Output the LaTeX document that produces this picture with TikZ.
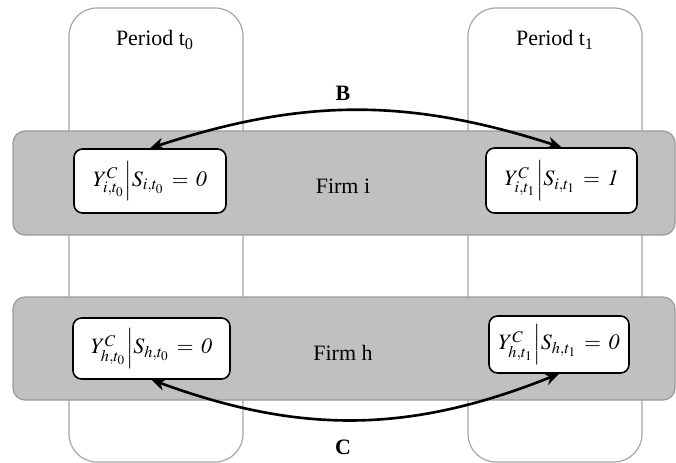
\documentclass[tikz,border=0pt]{standalone}
\usepackage{mathptmx}
\usepackage[no-math]{fontspec}
\setmainfont{Liberation Serif}
\usetikzlibrary{arrows.meta}
\definecolor{bandgray}{HTML}{C0C0C0}
\definecolor{bandline}{HTML}{9A9A9A}
\definecolor{colline}{HTML}{A8A8A8}
\tikzset{
  colbox/.style={draw=colline, line width=0.7pt, fill=white, rounded corners=0.56cm,
    minimum width=174*0.02cm, minimum height=454*0.02cm, inner sep=0pt},
  band/.style={draw=bandline, line width=0.7pt, fill=bandgray, rounded corners=0.24cm,
    minimum width=662*0.02cm, inner sep=0pt},
  cellbox/.style={draw=black, line width=0.9pt, fill=white, rounded corners=0.17cm, inner sep=0pt},
  lbl/.style={inner sep=1pt, font=\fontsize{12.5}{15}\selectfont},
  link/.style={line width=1.5pt, {Stealth[length=8pt,width=7pt]}-{Stealth[length=8pt,width=7pt]}},
}
\begin{document}
\begin{tikzpicture}[x=0.02cm,y=-0.02cm]
\useasboundingbox (0,0) rectangle (676,463);
% period columns
\node[colbox] (c0) at (156,235) {};
\node[colbox] (c1) at (555,235) {};
% firm bands
\node[band, minimum height=104*0.02cm] (fi) at (344,183) {};
\node[band, minimum height=103*0.02cm] (fh) at (344,348.5) {};
% period labels
\node[lbl] (p0) at (155,40) {Period t\textsubscript{0}};
\node[lbl] (p1) at (555,40) {Period t\textsubscript{1}};
% cell boxes
\node[cellbox, minimum width=152*0.02cm, minimum height=64*0.02cm] (i0) at (150,181)
  {\fontsize{12.5}{15}\selectfont$Y^{C}_{i,t_0}\Big|S_{i,t_0}\,=\,\mathit{0}$};
\node[cellbox, minimum width=151*0.02cm, minimum height=65*0.02cm] (i1) at (561.5,180.5)
  {\fontsize{12.5}{15}\selectfont$Y^{C}_{i,t_1}\Big|S_{i,t_1}\,=\,\mathit{1}$};
\node[cellbox, minimum width=157*0.02cm, minimum height=61*0.02cm] (h0) at (151.5,348.5)
  {\fontsize{12.5}{15}\selectfont$Y^{C}_{h,t_0}\Big|S_{h,t_0}\,=\,\mathit{0}$};
\node[cellbox, minimum width=140*0.02cm, minimum height=57*0.02cm] (h1) at (559,344.5)
  {\fontsize{12.5}{15}\selectfont$Y^{C}_{h,t_1}\Big|S_{h,t_1}\,=\,\mathit{0}$};
% firm labels
\node[lbl] (ti) at (343,186) {Firm i};
\node[lbl] (th) at (343,353) {Firm h};
% connectors
\draw[link] (i0.north) to[bend left=18] (i1.north);
\draw[link] (h0.south) to[bend right=21] (h1.south);
\node[lbl, font=\fontsize{12.5}{15}\selectfont\bfseries] (lb) at (343,93) {B};
\node[lbl, font=\fontsize{12.5}{15}\selectfont\bfseries] (lc) at (343,447) {C};
\end{tikzpicture}
\end{document}
